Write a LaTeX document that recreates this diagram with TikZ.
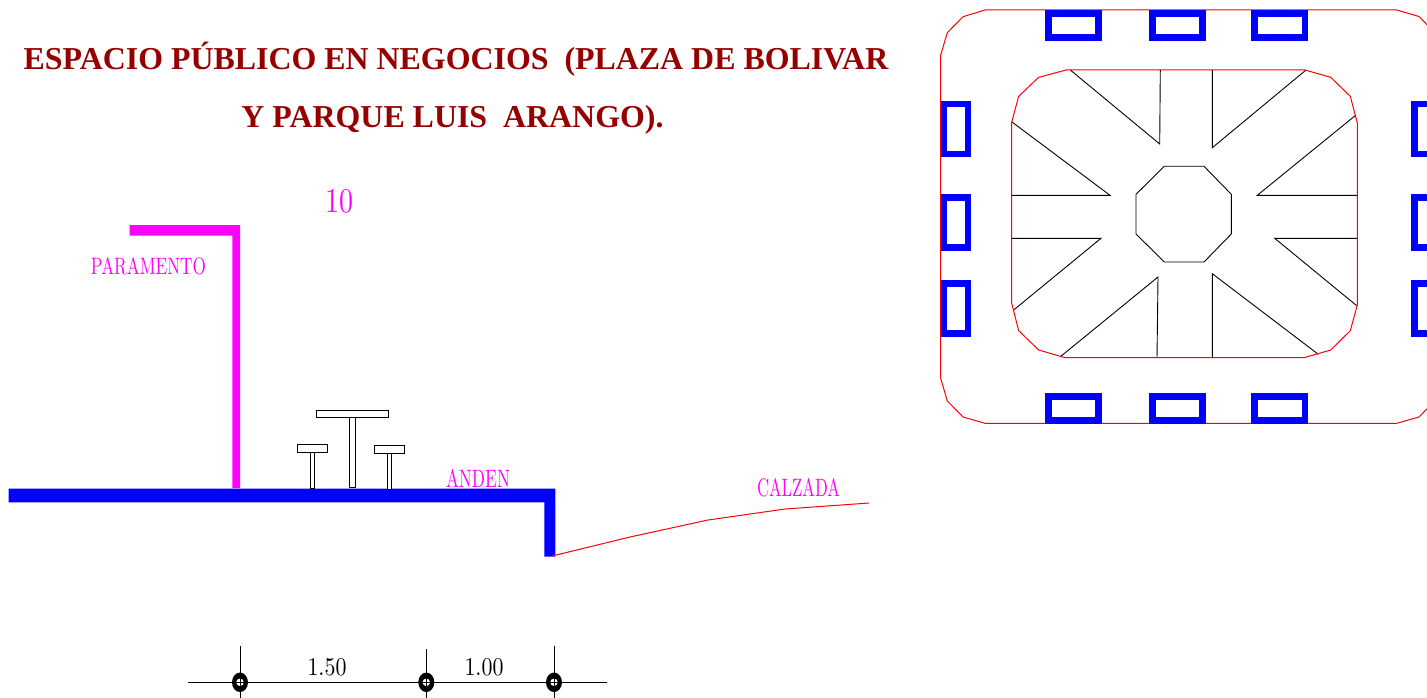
\documentclass[tikz,border=0pt]{standalone}
\usepackage{graphicx}
\usepackage{fontspec}
\setmainfont{Liberation Serif}
\newfontfamily\cadfont{Latin Modern Roman}
\definecolor{titlered}{HTML}{960000}
\definecolor{cadblue}{HTML}{0000FF}
\definecolor{cadmag}{HTML}{FF00FF}
\definecolor{cadred}{HTML}{FF0000}
\newcommand{\cadtext}[3]{\resizebox{#1pt}{#2pt}{\cadfont #3}}
\tikzset{
  titletext/.style={text=titlered,font=\bfseries\fontsize{31.9}{36}\selectfont,anchor=base,inner sep=0pt},
  magtext/.style={text=cadmag,anchor=base,inner sep=0pt},
  blacktext/.style={text=black,anchor=base,inner sep=0pt},
  redline/.style={draw=cadred,line width=1pt,line join=miter},
  blackline/.style={draw=black,line width=0.9pt},
  bluebox/.style={draw=cadblue,line width=6.6pt,line join=miter},
  bluefill/.style={fill=cadblue,draw=none},
  magfill/.style={fill=cadmag,draw=none},
  furn/.style={draw=black,line width=1pt,fill=white},
  dimline/.style={draw=black,line width=0.9pt},
  dimdot/.style={ellipse,draw=none,fill=black,minimum width=16pt,minimum height=19.5pt,inner sep=0pt},
  dimhole/.style={circle,draw=none,fill=white,minimum size=7.5pt,inner sep=0pt},
}
\usetikzlibrary{shapes.geometric}
\begin{document}
\begin{tikzpicture}[x=1pt,y=-1pt]
\useasboundingbox (0,0) rectangle (1427,698);
\begin{scope}
\clip (0,0) rectangle (1427,698);
\fill[white] (0,0) rectangle (1427,698);
% title
\node[titletext] (t1) at (456,69.5) {ESPACIO PÚBLICO EN NEGOCIOS\ \ (PLAZA DE BOLIVAR};
\node[titletext] (t2) at (452.5,127.5) {Y PARQUE LUIS\ \ ARANGO).};
% section
\fill[magfill] (129.7,225) -- (240,225) -- (240,488) -- (232.3,488) -- (232.3,235.7) -- (129.7,235.7) -- cycle;
\fill[bluefill] (8.5,488.7) -- (555.3,488.7) -- (555.3,556.7) -- (544.3,556.7) -- (544.3,502.3) -- (8.5,502.3) -- cycle;
\draw[redline] (552,556) -- (630,537) -- (708,520) -- (785,509) -- (869,503);
% furniture
\draw[furn] (349.3,417.7) rectangle (355.7,487.7);
\draw[furn] (316.9,410.3) rectangle (388.7,417.7);
\draw[furn] (310.3,452.3) rectangle (314.7,488.7);
\draw[furn] (297.6,444.7) rectangle (327.7,452.3);
\draw[furn] (387.3,453) rectangle (391.7,489);
\draw[furn] (374.5,445.3) rectangle (404.7,453);
% labels
\node[magtext] (lten) at (339,212) {\cadtext{28}{23}{10}};
\node[magtext] (lpar) at (148.5,274.3) {\cadtext{115}{17}{PARAMENTO}};
\node[magtext] (land) at (478,487.3) {\cadtext{64}{18}{ANDEN}};
\node[magtext] (lcal) at (798.5,496) {\cadtext{83}{18}{CALZADA}};
% dimension
\draw[dimline] (188,682.3) -- (606.7,682.3);
\draw[dimline] (240,645.7) -- (240,698);
\draw[dimline] (426.3,649) -- (426.3,698);
\draw[dimline] (554,645.7) -- (554,698);
\foreach \n/\x in {a/240,b/426.3,c/554}{
  \node[dimdot] (d\n) at (\x,682.3) {};
  \node[dimhole] (h\n) at (\x,682.3) {};
  \draw[black,line width=0.9pt] (h\n.north) -- (h\n.south);
  \draw[black,line width=0.9pt] (h\n.west) -- (h\n.east);
}
\node[blacktext] (d150) at (327,675) {\cadtext{39}{17}{1.50}};
\node[blacktext] (d100) at (484,675) {\cadtext{39}{17}{1.00}};
% plan: inner black lines
\draw[blackline] (1070.3,70) -- (1159.7,144) -- (1160.3,70);
\draw[blackline] (1012,122) -- (1110,195.3) -- (1011.7,195.3);
\draw[blackline] (1212.3,70) -- (1212.3,147.7) -- (1306,70);
\draw[blackline] (1356,115) -- (1257.3,195.3) -- (1357.3,195.3);
\draw[blackline] (1011.7,238.3) -- (1101,238.3) -- (1013.3,310.3);
\draw[blackline] (1060,357) -- (1158,277) -- (1157,357.7);
\draw[blackline] (1212.3,357.7) -- (1212.3,273.7) -- (1318.3,354.3);
\draw[blackline] (1357.3,238.3) -- (1274.7,238.3) -- (1356.7,305.7);
\draw[blackline] (1164.3,166.3) -- (1204,166.3) -- (1231.3,194.3) -- (1231.3,234) -- (1204,262) -- (1164.3,262) -- (1136,234) -- (1136,194.3) -- cycle;
% plan: red outlines
\draw[redline] (940.7,55) -- (947.3,32.7) -- (963,16.7) -- (985,10) -- (1396.7,10) -- (1419,16.5) -- (1434.7,32.7) -- (1441,55)
  -- (1441,378.3) -- (1434.7,401) -- (1419,417) -- (1396.7,423.3) -- (985,423.3) -- (963,417) -- (947.3,401) -- (940.7,378.3) -- cycle;
\draw[redline] (1011.7,122) -- (1018.7,96.3) -- (1038.7,77.3) -- (1066,70) -- (1305,70) -- (1330.7,77.3) -- (1350.3,96.3) -- (1357.3,123)
  -- (1357.3,305) -- (1350.3,330.7) -- (1330.7,350) -- (1304,357.7) -- (1065,357.7) -- (1038.7,350) -- (1018.7,330.7) -- (1011.7,303.3) -- cycle;
% plan: blue boxes
\foreach \a/\b in {1045/1101.7,1149/1205.7,1251.3/1308.3}{
  \draw[bluebox] (\a+3.3,13.3) rectangle (\b-3.3,37.5);
  \draw[bluebox] (\a+3.3,396.6) rectangle (\b-3.3,420.4);
}
\foreach \a/\b in {100.7/157.3,194/250.7,280.3/336.7}{
  \draw[bluebox] (944,\a+3.3) rectangle (968,\b-3.3);
  \draw[bluebox] (1414.6,\a+3.3) rectangle (1438.6,\b-3.3);
}
\end{scope}
\end{tikzpicture}
\end{document}
